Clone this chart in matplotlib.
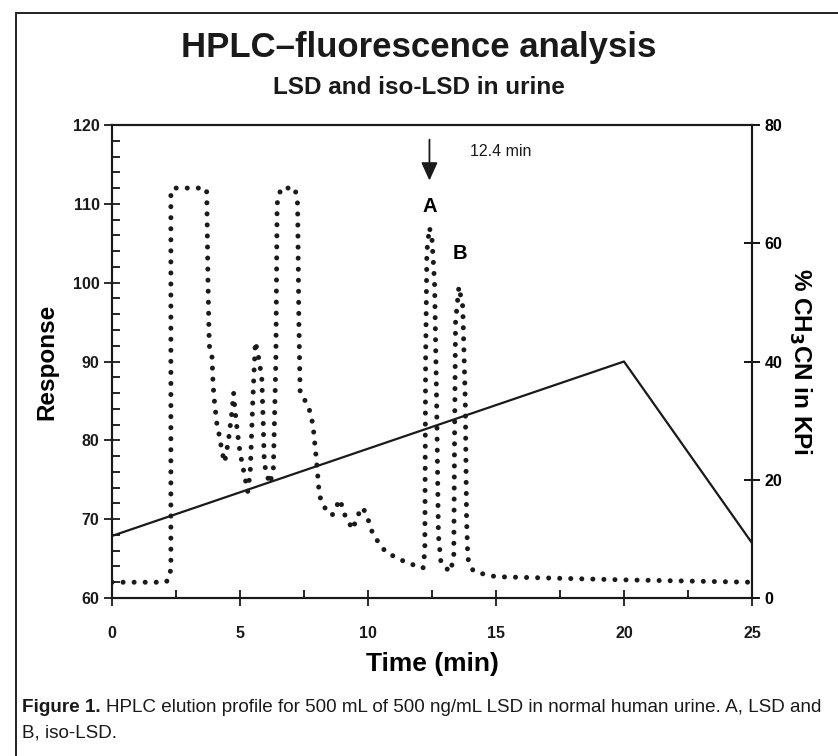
import matplotlib
matplotlib.use("Agg")
import matplotlib.pyplot as plt
from matplotlib.patches import Rectangle
from matplotlib.ticker import MultipleLocator

# chromatogram (time in min, detector response)
time_min = [0, 2.1, 2.25, 2.3, 2.3, 2.4, 3.65, 3.7, 3.75, 3.8, 3.9, 3.95, 4.0, 4.1, 4.2,
            4.3, 4.4, 4.55, 4.7, 4.75, 4.8, 4.9, 5.0, 5.15, 5.3, 5.4, 5.5, 5.6, 5.7,
            5.85, 5.9, 5.95, 6.15, 6.3, 6.4, 6.45, 6.6, 7.15, 7.25, 7.3, 7.35, 7.55,
            7.7, 7.85, 8.0, 8.1, 8.3, 8.6, 8.9, 9.1, 9.4, 9.6, 9.8, 10.0, 10.2, 10.7,
            11.5, 12.15, 12.22, 12.25, 12.3, 12.4, 12.5, 12.6, 12.68, 12.75, 12.85,
            13.2, 13.35, 13.38, 13.42, 13.55, 13.7, 13.8, 13.85, 13.9, 14.1, 14.3,
            15, 20, 25]
response = [62.0, 62.0, 62.5, 64, 111.5, 112, 112, 111.5, 100, 92, 91, 87, 85, 82, 80.5,
            78.5, 77.2, 80, 84, 86, 84, 81, 78.5, 76, 73.5, 76, 85, 92.5, 91,
            88, 83, 77, 74.5, 76, 90, 110, 112, 112, 110, 95, 86, 85,
            84, 82, 77, 73, 71.5, 70.5, 72.5, 70.5, 68.7, 70.5, 71.5, 70, 68, 65.8,
            64.5, 63.8, 66, 90, 104, 107, 105.5, 100, 85, 68, 64.5,
            63.3, 65, 80, 95, 99.5, 97, 85, 70, 65, 63.5, 63.2,
            62.7, 62.3, 62.0]

# solvent gradient (% CH3CN)
grad_time = [0, 20, 25]
grad_pct = [10.5, 40, 9.3]

x_ticks = [0, 5, 10, 15, 20, 25]
y_ticks = [60, 70, 80, 90, 100, 110, 120]
y2_ticks = [0, 20, 40, 60, 80]

plt.rcParams['font.family'] = ['Liberation Sans', 'DejaVu Sans']
ink = '#1a1a1a'

fig = plt.figure(figsize=(8.38, 7.56), dpi=100)

# frame around the figure (runs off right and bottom edge)
fig.patches.append(Rectangle((16 / 838, -0.05), 1.1, 1 - 13 / 756 + 0.05,
                             transform=fig.transFigure, fill=False,
                             edgecolor='#222222', linewidth=1.4))

ax = fig.add_axes([112 / 838, 1 - 598 / 756, 640 / 838, 473 / 756])
ax.plot(time_min, response, color=ink, linewidth=3.6,
        linestyle=(0, (0.01, 2.2)), dash_capstyle='round', zorder=3)
ax.set_xlim(0, 25)
ax.set_ylim(60, 120)

ax2 = ax.twinx()
ax2.plot(grad_time, grad_pct, color=ink, linewidth=1.6)
ax2.set_ylim(0, 80)

for a in (ax, ax2):
    for s in a.spines.values():
        s.set_linewidth(1.5)
        s.set_color(ink)

ax.set_xticks(x_ticks)
ax.xaxis.set_minor_locator(MultipleLocator(2.5))
ax.set_yticks(y_ticks)
ax.yaxis.set_minor_locator(MultipleLocator(2))
ax.tick_params(axis='both', which='major', direction='inout', length=12, width=1.3,
               labelsize=11.5, colors=ink)
ax.tick_params(axis='both', which='minor', direction='in', length=6, width=1.2)
ax.tick_params(axis='x', pad=14)
ax.tick_params(axis='y', pad=3)
ax2.set_yticks(y2_ticks)
ax2.tick_params(axis='y', direction='inout', length=12, width=1.3, labelsize=11.5, pad=3)
for lab in ax.get_xticklabels() + ax.get_yticklabels() + ax2.get_yticklabels():
    lab.set_fontweight('bold')

ax.set_xlabel('Time (min)', fontsize=19, fontweight='bold', labelpad=8)
ax.set_ylabel('Response', fontsize=17.5, fontweight='bold', labelpad=10)
ax2.set_ylabel('% CH$_\\mathbf{3}$CN in KPi', fontsize=17.5, fontweight='bold',
               rotation=-90, labelpad=22)

# peak marker
ax.annotate('', xy=(12.4, 112.6), xytext=(12.4, 118.5),
            arrowprops=dict(arrowstyle='-|>,head_length=1.1,head_width=0.5',
                            color=ink, lw=1.3))
ax.text(14.0, 116.6, '12.4 min', fontsize=11.5, va='center', color=ink)
ax.text(12.4, 109.6, 'A', fontsize=14.5, fontweight='bold', ha='center', va='center')
ax.text(13.6, 103.7, 'B', fontsize=14.5, fontweight='bold', ha='center', va='center')

fig.text(0.5, 1 - 48 / 756, 'HPLC\u2013fluorescence analysis', ha='center', va='center',
         fontsize=25, fontweight='bold', color=ink)
fig.text(0.5, 1 - 87 / 756, 'LSD and iso-LSD in urine', ha='center', va='center',
         fontsize=17.5, fontweight='bold', color=ink)

# caption
cap_size = 13.6
t1 = fig.text(22 / 838, 1 - 707 / 756, 'Figure 1.', fontsize=cap_size, fontweight='bold',
              va='center', color=ink)
fig.canvas.draw()
bb = t1.get_window_extent()
fig.text((bb.x1 + 5) / 838, 1 - 707 / 756,
         'HPLC elution profile for 500 mL of 500 ng/mL LSD in normal human urine. A, LSD and',
         fontsize=cap_size, va='center', color=ink)
fig.text(22 / 838, 1 - 733 / 756, 'B, iso-LSD.', fontsize=cap_size, va='center', color=ink)

fig.savefig('out.png', dpi=100)
